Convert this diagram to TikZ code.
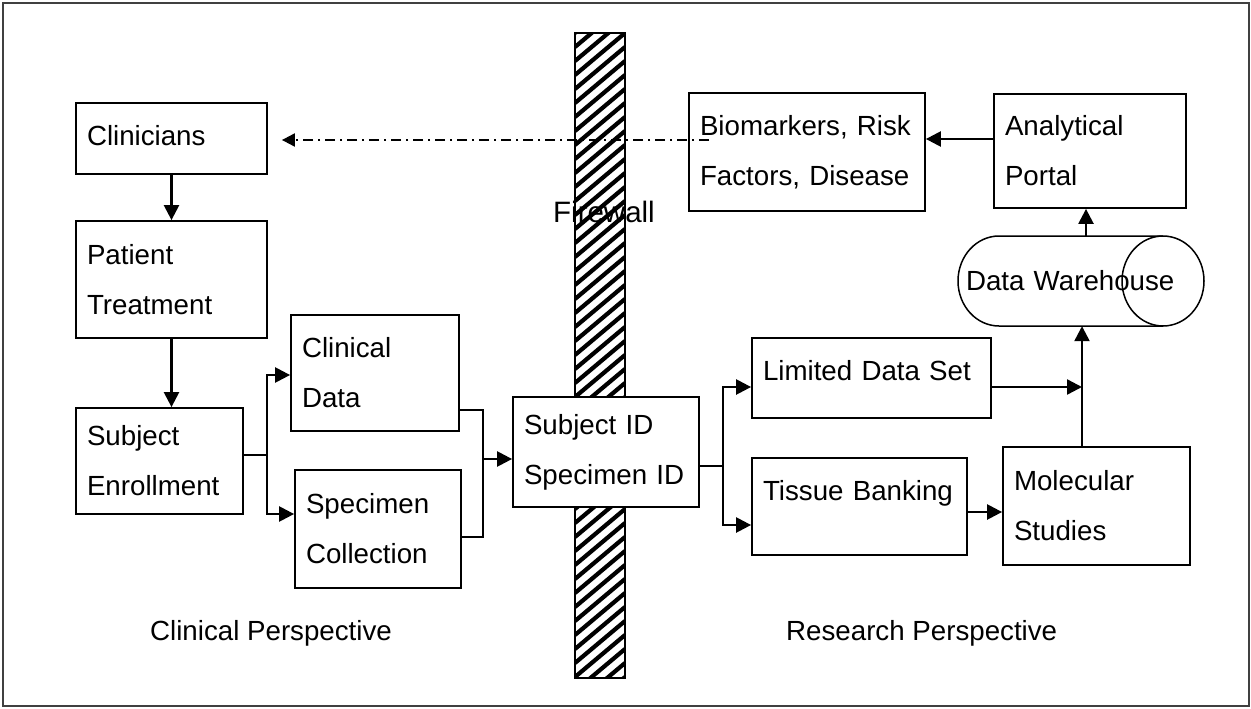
\documentclass[tikz,border=0pt]{standalone}
\usepackage{fontspec}
\setmainfont{Liberation Sans}
\usetikzlibrary{arrows.meta,calc}
\newcommand\fs{\fontsize{27.7pt}{50pt}\selectfont}
\tikzset{
  box/.style={draw, line width=1.8pt, fill=white, inner xsep=11pt, inner ysep=0pt, align=left, font=\fs},
  ln/.style={line width=2.4pt},
  arr/.style={ln, -{Triangle[length=15pt,width=15pt]}},
  ddarr/.style={line width=2pt, dash pattern=on 10pt off 5pt on 2pt off 5pt, -{Triangle[length=13pt,width=13pt]}},
  lbl/.style={font=\fs, inner sep=0pt}
}
\begin{document}
\begin{tikzpicture}[x=1pt,y=-1pt]
\useasboundingbox (0,0) rectangle (1251,709);
\draw[line width=2pt, black!75] (3,3) rectangle (1249,706);

% firewall
\node[minimum width=50pt, minimum height=645pt, inner sep=0pt] (fw) at (600,355.5) {};
\begin{scope}
\clip (fw.south west) rectangle (fw.north east);
\foreach \k in {0,...,50} \draw[line width=4.2pt] (575,33+14*\k) -- (625,33+14*\k-42);
\end{scope}
\draw[line width=1.5pt] (fw.south west) rectangle (fw.north east);

% boxes
\node[box, minimum width=191pt, minimum height=71pt, text width=169pt, text depth=7pt] (clin) at (171.5,138.5) {Clinicians};
\node[box, minimum width=191pt, minimum height=117pt, text width=169pt] (pat) at (171.5,279.5) {Patient\\Treatment};
\node[box, minimum width=167pt, minimum height=106pt, text width=145pt] (subj) at (159.5,461) {Subject\\Enrollment};
\node[box, minimum width=168pt, minimum height=116pt, text width=146pt] (cdata) at (375,373) {Clinical\\Data};
\node[box, minimum width=166pt, minimum height=118pt, text width=144pt] (spec) at (378,529) {Specimen\\Collection};
\node[box, minimum width=186pt, minimum height=110pt, text width=164pt] (sid) at (606,452) {Subject ID\\Specimen ID};
\node[box, minimum width=239pt, minimum height=80pt, text width=217pt, text depth=16pt] (lds) at (871.5,378) {Limited Data Set};
\node[box, minimum width=215pt, minimum height=97pt, text width=193pt, text depth=33pt] (tb) at (859.5,506.5) {Tissue Banking};
\node[box, minimum width=187pt, minimum height=118pt, text width=165pt] (mol) at (1096.5,506) {Molecular\\Studies};
\node[box, minimum width=236pt, minimum height=118pt, text width=214pt] (bio) at (807,152) {Biomarkers, Risk\\Factors, Disease};
\node[box, minimum width=192pt, minimum height=114pt, text width=170pt] (port) at (1090,151) {Analytical\\Portal};

% data warehouse cylinder
\draw[line width=1.5pt] (1163,236) -- (999,236) arc[start angle=270, end angle=90, x radius=41, y radius=45] -- (1163,326);
\draw[line width=1.5pt] (1163,281) ellipse[x radius=41, y radius=45];
\node[minimum width=246pt, minimum height=90pt, inner sep=0pt, text width=230pt, align=left, font=\fs] (dw) at (1081,281) {Data Warehouse};

% left chain
\draw[arr] (clin.south) -- (pat.north);
\draw[arr] (pat.south) -- (pat.south |- subj.north);
\coordinate (f1) at (267,455);
\draw[ln] (subj.east |- f1) -- (f1);
\draw[arr] (f1) |- ([yshift=-2pt]cdata.west);
\draw[arr] (f1) |- ([yshift=15pt]spec.west);

% merge to subject id
\coordinate (m1) at (483,459);
\draw[ln] ([yshift=-37pt]cdata.east) -| (m1);
\draw[ln] ([yshift=-8pt]spec.east) -| (m1);
\draw[arr] (m1) -- (m1 -| sid.west);

% fork to research
\coordinate (f2) at (723,466);
\draw[ln] (sid.east |- f2) -- (f2);
\draw[arr] (f2) |- ([yshift=-9pt]lds.west);
\draw[arr] (f2) |- ([yshift=-18.5pt]tb.west);

% research flow
\coordinate (j) at (1082,387);
\draw[arr] ([yshift=-9pt]lds.east) -- (j);
\draw[arr] (mol.north -| j) -- (j |- dw.south);
\draw[arr] ([yshift=-5.5pt]tb.east) -- ([yshift=-5.5pt]tb.east -| mol.west);
\draw[arr] ([xshift=-4pt]port.south |- dw.north) -- ([xshift=-4pt]port.south);
\draw[arr] ([yshift=12pt]port.west) -- ([yshift=12pt]port.west -| bio.east);

% feedback to clinicians
\coordinate (dd0) at (709,140);
\draw[ddarr, shorten >=14pt] (dd0) -- (dd0 -| clin.east);

% labels
\node[lbl, anchor=base] (fwt) at (604,222) {\fontsize{29.5pt}{35pt}\selectfont Firewall};
\node[lbl, anchor=base west] (cp) at (150,640) {Clinical Perspective};
\node[lbl, anchor=base west] (rp) at (786,640) {Research Perspective};
\end{tikzpicture}
\end{document}
